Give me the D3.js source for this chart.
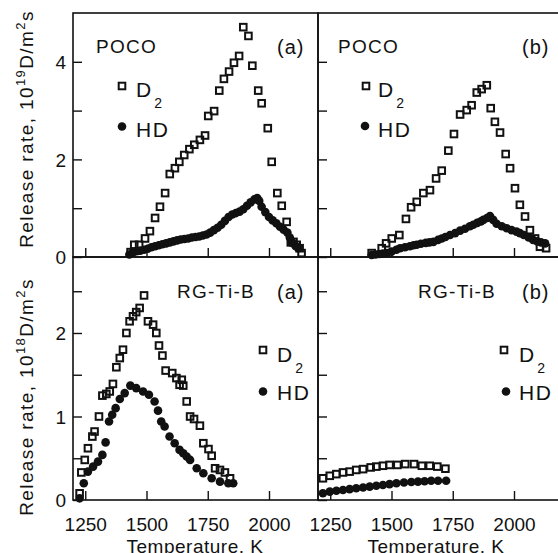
<!DOCTYPE html>
<html><head><meta charset="utf-8">
<script src="https://cdn.jsdelivr.net/npm/d3@7"></script>
<style>
html,body{margin:0;padding:0;background:#fff;}
svg{display:block;font-family:"Liberation Sans",Arial,Helvetica,sans-serif;}
</style></head>
<body><svg id="chart" width="558" height="553"></svg>
<script>
// ---------- DATA ----------
// Panel POCO (a)
const pocoA_D2_T = [1435,1450,1470,1494,1514,1535,1555,1576,1595,1616,1634,1654,1675,1695,1718,1739,1752,1776,1797,1816,1837,1857,1878,1895,1916,1932,1956,1970,1995,2011,2034,2052,2072,2089,2100,2113,2125,2133];
const pocoA_D2_V = [0.10,0.25,0.25,0.38,0.53,0.80,1.03,1.31,1.70,1.82,1.95,2.09,2.21,2.30,2.40,2.49,2.89,2.99,3.41,3.65,3.80,3.98,4.12,4.71,4.53,3.92,3.41,3.15,2.64,1.95,1.31,1.05,0.72,0.30,0.31,0.25,0.18,0.08];
const pocoA_HD_T = [1430,1445,1460,1475,1490,1505,1520,1535,1550,1565,1580,1595,1610,1625,1640,1655,1670,1685,1700,1715,1730,1745,1760,1775,1790,1805,1820,1835,1850,1865,1880,1895,1910,1925,1940,1952,1960,1970,1985,2000,2015,2030,2045,2060,2075,2085,2092,2100,2110,2120];
const pocoA_HD_V = [0.05,0.10,0.12,0.13,0.15,0.17,0.20,0.22,0.24,0.26,0.28,0.30,0.32,0.34,0.36,0.37,0.38,0.40,0.41,0.42,0.44,0.46,0.50,0.55,0.60,0.66,0.74,0.82,0.87,0.90,0.93,0.98,1.05,1.12,1.18,1.21,1.15,1.03,0.92,0.82,0.75,0.69,0.62,0.56,0.50,0.40,0.30,0.27,0.22,0.18];
// Panel POCO (b)
const pocoB_D2_T = [1419,1460,1478,1501,1532,1559,1580,1603,1630,1657,1682,1705,1732,1755,1780,1807,1827,1848,1868,1889,1905,1922,1943,1966,1984,2004,2024,2045,2065,2086,2106,2131];
const pocoB_D2_V = [0.08,0.18,0.28,0.38,0.45,0.78,1.02,1.13,1.31,1.37,1.61,1.77,2.18,2.52,2.92,3.01,3.11,3.37,3.44,3.52,3.05,2.77,2.55,2.11,1.82,1.41,1.07,0.83,0.55,0.38,0.21,0.18];
const pocoB_HD_T = [1419,1435,1450,1465,1480,1500,1520,1535,1555,1575,1590,1603,1620,1640,1655,1671,1690,1705,1720,1739,1760,1780,1800,1820,1834,1850,1865,1875,1890,1902,1915,1929,1950,1970,1990,2010,2024,2040,2060,2078,2095,2110,2127];
const pocoB_HD_V = [0.04,0.05,0.06,0.07,0.08,0.11,0.15,0.18,0.20,0.22,0.24,0.25,0.27,0.29,0.30,0.31,0.35,0.38,0.41,0.45,0.49,0.54,0.58,0.63,0.66,0.70,0.73,0.76,0.80,0.84,0.76,0.68,0.63,0.59,0.55,0.52,0.49,0.45,0.40,0.35,0.32,0.30,0.28];
// Panel RG-Ti-B (a)
const rgA_D2_T = [1227,1234,1248,1261,1279,1288,1306,1320,1336,1350,1363,1377,1391,1404,1418,1431,1445,1458,1472,1490,1506,1527,1540,1551,1565,1578,1605,1622,1635,1644,1650,1664,1678,1694,1718,1732,1753,1766,1780,1800,1820,1841];
const rgA_D2_V = [0.08,0.33,0.48,0.62,0.76,0.82,1.00,1.25,1.27,1.30,1.39,1.59,1.70,1.80,2.00,2.14,2.20,2.25,2.30,2.45,2.14,2.10,2.00,1.85,1.73,1.55,1.52,1.46,1.38,1.44,1.37,1.18,1.00,0.97,0.89,0.68,0.61,0.53,0.38,0.36,0.33,0.26];
const rgA_HD_T = [1227,1244,1261,1282,1302,1320,1333,1347,1360,1374,1391,1411,1434,1458,1486,1510,1533,1547,1560,1574,1594,1615,1635,1650,1664,1678,1705,1732,1766,1800,1834,1854];
const rgA_HD_V = [0.02,0.20,0.34,0.40,0.46,0.54,0.69,0.94,1.02,1.10,1.21,1.28,1.37,1.34,1.30,1.26,1.18,1.07,0.94,0.88,0.76,0.68,0.60,0.56,0.52,0.48,0.38,0.32,0.26,0.22,0.20,0.20];
// Panel RG-Ti-B (b)
const rgB_D2_T = [1220,1248,1275,1302,1329,1356,1384,1415,1438,1465,1492,1524,1556,1592,1624,1656,1687,1720];
const rgB_D2_V = [0.26,0.29,0.31,0.33,0.34,0.36,0.37,0.39,0.40,0.41,0.42,0.42,0.43,0.43,0.41,0.41,0.40,0.375];
const rgB_HD_T = [1220,1248,1275,1302,1329,1356,1384,1411,1438,1465,1492,1520,1551,1581,1608,1635,1662,1690,1723];
const rgB_HD_V = [0.08,0.10,0.11,0.12,0.13,0.14,0.15,0.16,0.17,0.18,0.19,0.20,0.21,0.215,0.22,0.225,0.23,0.23,0.23];

const xTicks = [1250,1500,1750,2000];
const yTicksTop = [0,1,2,3,4];
const yTicksBot = [0,0.5,1,1.5,2,2.5];
const sampleTop = "POCO", sampleBot = "RG-Ti-B";
const seriesNames = ["D","HD"];

// ---------- LAYOUT ----------
const svg = d3.select("#chart");
const L = 73, M = 318, R = 563, T = 13, MID = 257, B = 500;
const xL = d3.scaleLinear().domain([1200,2200]).range([L,M]);
const xR = d3.scaleLinear().domain([1200,2200]).range([M,R]);
const yTop = d3.scaleLinear().domain([0,5]).range([MID,T]);
const yBot = d3.scaleLinear().domain([0,2.91]).range([B,MID]);
const ink = "#111";

const panels = [
 {x:xL,y:yTop,d2T:pocoA_D2_T,d2V:pocoA_D2_V,hdT:pocoA_HD_T,hdV:pocoA_HD_V,name:sampleTop,tag:"(a)",leftLabels:true,bottomLabels:false,yt:yTicksTop,
  nameX:96,tagX:277,labY:53,legSq:[122,86],legCi:[122,126.5],legTx:136,d2Base:97,hdBase:137},
 {x:xR,y:yTop,d2T:pocoB_D2_T,d2V:pocoB_D2_V,hdT:pocoB_HD_T,hdV:pocoB_HD_V,name:sampleTop,tag:"(b)",leftLabels:false,bottomLabels:false,yt:yTicksTop,
  nameX:338,tagX:522,labY:53,legSq:[366,86],legCi:[365,126],legTx:378,d2Base:97,hdBase:137},
 {x:xL,y:yBot,d2T:rgA_D2_T,d2V:rgA_D2_V,hdT:rgA_HD_T,hdV:rgA_HD_V,name:sampleBot,tag:"(a)",leftLabels:true,bottomLabels:true,yt:yTicksBot,
  nameX:177,tagX:277,labY:298,legSq:[263,350],legCi:[263,391.5],legTx:277,d2Base:362,hdBase:400},
 {x:xR,y:yBot,d2T:rgB_D2_T,d2V:rgB_D2_V,hdT:rgB_HD_T,hdV:rgB_HD_V,name:sampleBot,tag:"(b)",leftLabels:false,bottomLabels:true,yt:yTicksBot,
  nameX:418,tagX:522,labY:298,legSq:[504,350],legCi:[506,391.5],legTx:519,d2Base:362,hdBase:400}
];

panels.forEach(p => {
  const g = svg.append("g");
  const [x0,x1] = p.x.range(); const [y0,y1] = p.y.range();
  // frame
  g.append("rect").attr("x",x0).attr("y",y1).attr("width",x1-x0).attr("height",y0-y1)
    .attr("fill","none").attr("stroke",ink).attr("stroke-width",1.6);
  // x axis (ticks inward)
  const xa = d3.axisBottom(p.x).tickValues(xTicks).tickSizeInner(-9).tickSizeOuter(0)
    .tickPadding(p.bottomLabels ? 31 : 0).tickFormat(p.bottomLabels ? d3.format("d") : () => "");
  const gx = g.append("g").attr("transform",`translate(0,${y0})`).call(xa);
  // y axis (ticks inward)
  const ya = d3.axisLeft(p.y).tickValues(p.yt).tickSizeInner(-9).tickSizeOuter(0)
    .tickPadding(7).tickFormat(d => (p.leftLabels && Number.isInteger(d) && (p.y===yBot || d%2===0)) ? d : "");
  const gy = g.append("g").attr("transform",`translate(${x0},0)`).call(ya);
  [gx,gy].forEach(a => {
    a.select(".domain").remove();
    a.selectAll("line").attr("stroke",ink).attr("stroke-width",1.4);
    a.selectAll("text").attr("fill",ink).style("font-size","19px").style("font-family","'Liberation Sans',Arial,sans-serif");
  });
  gx.selectAll("text").attr("dy","0");
  gy.selectAll("text").attr("dy","0.36em");

  const clip = "clip"+Math.random().toString(36).slice(2);
  svg.append("clipPath").attr("id",clip).append("rect").attr("x",x0).attr("y",y1-6).attr("width",x1-x0+10).attr("height",y0-y1+12);
  const pg = g.append("g").attr("clip-path",`url(#${clip})`);
  // HD filled circles
  pg.selectAll("circle.hd").data(p.hdT.map((t,i)=>[t,p.hdV[i]])).join("circle")
    .attr("cx",d=>p.x(d[0])).attr("cy",d=>p.y(d[1])).attr("r",4.3).attr("fill",ink);
  // D2 open squares
  pg.selectAll("rect.d2").data(p.d2T.map((t,i)=>[t,p.d2V[i]])).join("rect")
    .attr("x",d=>p.x(d[0])-3.3).attr("y",d=>p.y(d[1])-3.3).attr("width",6.6).attr("height",6.6)
    .attr("fill","none").attr("stroke",ink).attr("stroke-width",2);

  // labels
  g.append("text").attr("x",p.nameX).attr("y",p.labY).text(p.name)
    .attr("fill",ink).style("font-size","19px").style("letter-spacing","1.3px");
  g.append("text").attr("x",p.tagX).attr("y",p.labY+1).text(p.tag)
    .attr("fill",ink).style("font-size","20px").style("letter-spacing","1px");
  // legend
  g.append("rect").attr("x",p.legSq[0]-3.3).attr("y",p.legSq[1]-3.3).attr("width",6.6).attr("height",6.6)
    .attr("fill","none").attr("stroke",ink).attr("stroke-width",2);
  g.append("circle").attr("cx",p.legCi[0]).attr("cy",p.legCi[1]).attr("r",4.3).attr("fill",ink);
  const t1 = g.append("text").attr("x",p.legTx).attr("y",p.d2Base).attr("fill",ink).style("font-size","21px");
  t1.append("tspan").text(seriesNames[0]);
  t1.append("tspan").attr("dx",3).attr("dy",11).style("font-size","14px").text("2");
  g.append("text").attr("x",p.legTx).attr("y",p.hdBase).attr("fill",ink).style("font-size","21px")
    .style("letter-spacing","1.5px").text(seriesNames[1]);
});

// Axis titles
function yTitle(cy, exp){
  const t = svg.append("text").attr("transform",`translate(33,${cy}) rotate(-90)`)
    .attr("text-anchor","middle").attr("fill",ink).style("font-size","19px").style("letter-spacing","1.4px");
  t.append("tspan").text("Release rate, 10");
  t.append("tspan").attr("dy",-8).style("font-size","13px").text(exp);
  t.append("tspan").attr("dy",8).text("D/m");
  t.append("tspan").attr("dy",-8).style("font-size","13px").text("2");
  t.append("tspan").attr("dy",8).text("s");
}
yTitle(129,"19");
yTitle(397,"18");
[xL,xR].forEach((xs,i) => {
  svg.append("text").attr("x",i===0?195:436).attr("y",553).attr("text-anchor","middle")
    .attr("fill",ink).style("font-size","19px").style("letter-spacing","0.5px").text("Temperature, K");
});
</script></body></html>
